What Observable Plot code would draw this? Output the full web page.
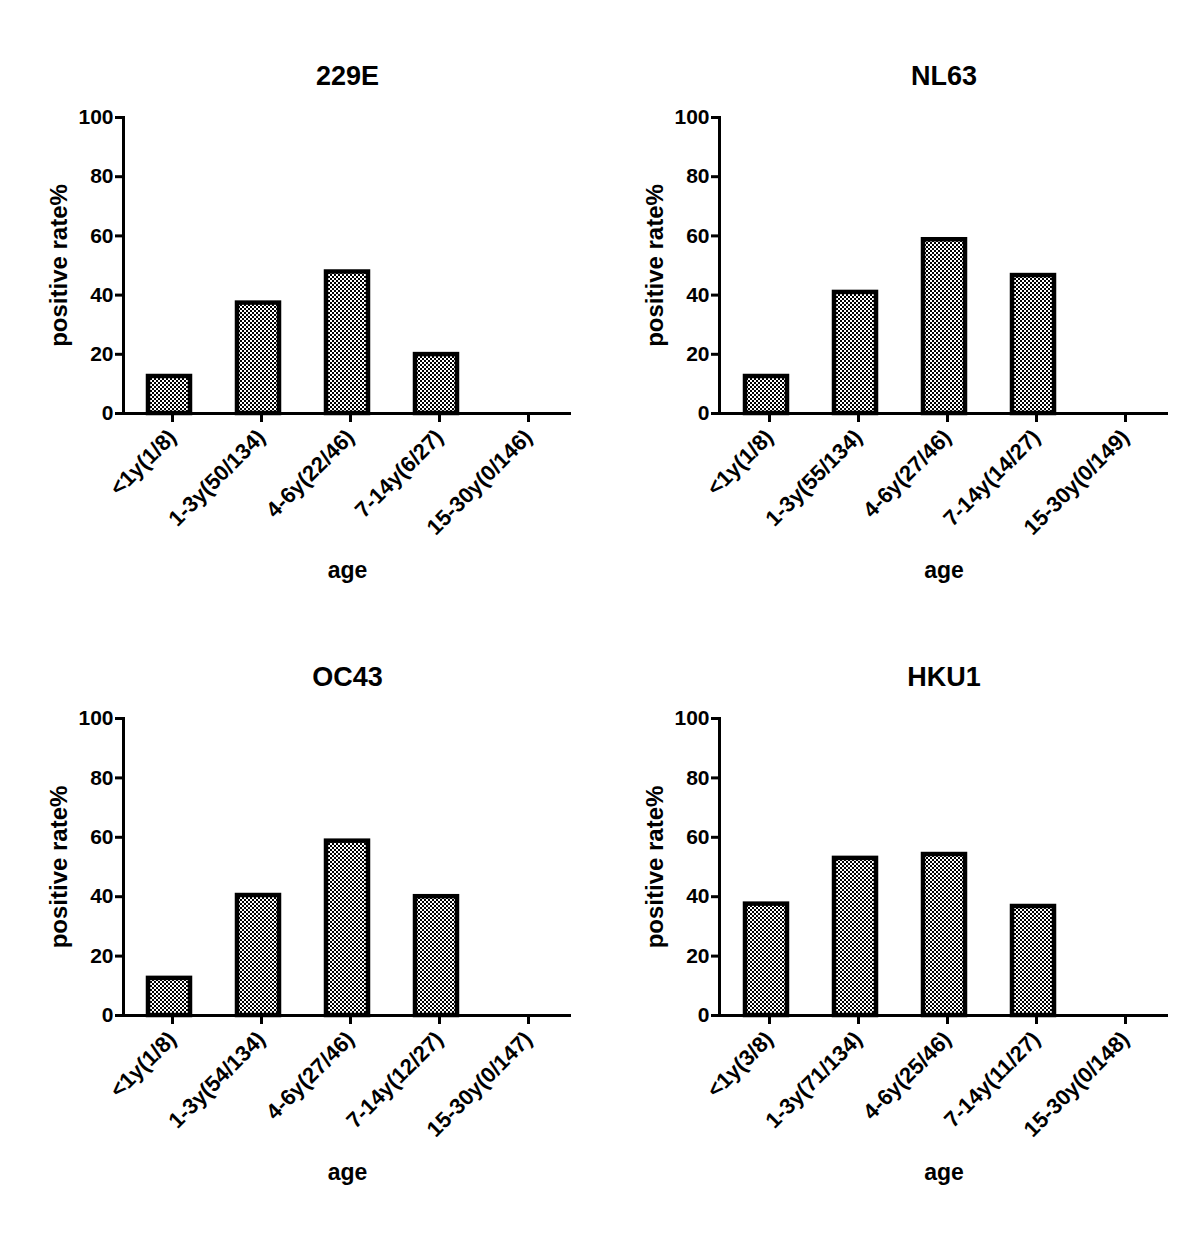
<!DOCTYPE html>
<html>
<head>
<meta charset="utf-8">
<script src="https://cdn.jsdelivr.net/npm/d3@7"></script>
<script src="https://cdn.jsdelivr.net/npm/@observablehq/plot@0.6"></script>
<style>
  html, body { margin: 0; padding: 0; background: #fff; }
  #root { position: relative; width: 1200px; height: 1238px; overflow: hidden; }
  .panel { position: absolute; }
  .panel svg { display: block; }
</style>
</head>
<body>
<div id="root"></div>
<script>
// ---- data ----
const panelNames = ["229E", "NL63", "OC43", "HKU1"];
const labels229E = ["<1y(1/8)", "1-3y(50/134)", "4-6y(22/46)", "7-14y(6/27)", "15-30y(0/146)"];
const labelsNL63 = ["<1y(1/8)", "1-3y(55/134)", "4-6y(27/46)", "7-14y(14/27)", "15-30y(0/149)"];
const labelsOC43 = ["<1y(1/8)", "1-3y(54/134)", "4-6y(27/46)", "7-14y(12/27)", "15-30y(0/147)"];
const labelsHKU1 = ["<1y(3/8)", "1-3y(71/134)", "4-6y(25/46)", "7-14y(11/27)", "15-30y(0/148)"];
const rate229E = [12.5, 37.3, 47.8, 19.9, 0];
const rateNL63 = [12.5, 40.9, 58.7, 46.6, 0];
const rateOC43 = [12.5, 40.4, 58.7, 40.0, 0];
const rateHKU1 = [37.5, 52.9, 54.2, 36.7, 0];
const yTicks = [0, 20, 40, 60, 80, 100];
const xTitle = "age";
const yTitle = "positive rate%";

const panelLabels = [labels229E, labelsNL63, labelsOC43, labelsHKU1];
const panelRates = [rate229E, rateNL63, rateOC43, rateHKU1];

// ---- layout ----
const layout = [
  {left: 0,   top: 0,   ml: 123, mr: 29, mt: 117, mb: 206},
  {left: 600, top: 0,   ml: 119, mr: 32, mt: 117, mb: 206},
  {left: 0,   top: 619, ml: 123, mr: 29, mt: 99,  mb: 223},
  {left: 600, top: 619, ml: 119, mr: 32, mt: 99,  mb: 223}
];
const FONT = "'Liberation Sans', Arial, Helvetica, sans-serif";
const root = document.getElementById("root");

panelNames.forEach((name, i) => {
  const L = layout[i];
  const cats = panelLabels[i];
  const data = cats.map((c, j) => ({cat: c, rate: panelRates[i][j]}));
  const pid = "checker" + i;
  const chart = Plot.plot({
    width: 600,
    height: 619,
    marginLeft: L.ml,
    marginRight: L.mr,
    marginTop: L.mt,
    marginBottom: L.mb,
    style: {fontFamily: FONT, color: "#000", background: "#fff", overflow: "visible"},
    x: {domain: cats, paddingInner: 0.53, paddingOuter: 0.265},
    y: {domain: [0, 100]},
    marks: [
      Plot.barY(data, {
        filter: d => d.rate > 0,
        x: "cat", y: "rate",
        fill: `url(#${pid})`,
        stroke: "#000", strokeWidth: 4.5
      }),
      Plot.ruleY([0], {stroke: "#000", strokeWidth: 3, insetLeft: -8}),
      Plot.frame({anchor: "left", stroke: "#000", strokeWidth: 3}),
      Plot.axisY({
        ticks: yTicks, tickSize: 8, tickPadding: 2,
        strokeWidth: 3, fontSize: 21, fontWeight: "bold",
        label: null, tickFormat: d => String(d)
      }),
      Plot.axisX({
        tickSize: 9, tickPadding: 11, tickRotate: -45, dx: 3,
        strokeWidth: 3, fontSize: 22, fontWeight: "bold",
        label: null
      }),
      Plot.text([name], {
        frameAnchor: "top", dy: -41, lineAnchor: "middle", text: d => d,
        fontSize: 27, fontWeight: "bold", fill: "#000"
      }),
      Plot.text([xTitle], {
        frameAnchor: "bottom", dy: 157, lineAnchor: "middle", text: d => d,
        fontSize: 23, fontWeight: "bold", fill: "#000"
      }),
      Plot.text([yTitle], {
        frameAnchor: "left", dx: -64, rotate: -90, textAnchor: "middle", lineAnchor: "middle",
        text: d => d,
        fontSize: 24, fontWeight: "bold", fill: "#000"
      })
    ]
  });
  // checkered fill pattern
  const svg = d3.select(chart);
  const defs = svg.insert("defs", ":first-child");
  const pat = defs.append("pattern")
    .attr("id", pid)
    .attr("patternUnits", "userSpaceOnUse")
    .attr("width", 4).attr("height", 4);
  pat.append("rect").attr("width", 4).attr("height", 4).attr("fill", "#fff");
  pat.append("rect").attr("x", 0).attr("y", 0).attr("width", 2).attr("height", 2).attr("fill", "#000");
  pat.append("rect").attr("x", 2).attr("y", 2).attr("width", 2).attr("height", 2).attr("fill", "#000");

  const div = document.createElement("div");
  div.className = "panel";
  div.style.left = L.left + "px";
  div.style.top = L.top + "px";
  div.appendChild(chart);
  root.appendChild(div);
});
</script>
</body>
</html>
